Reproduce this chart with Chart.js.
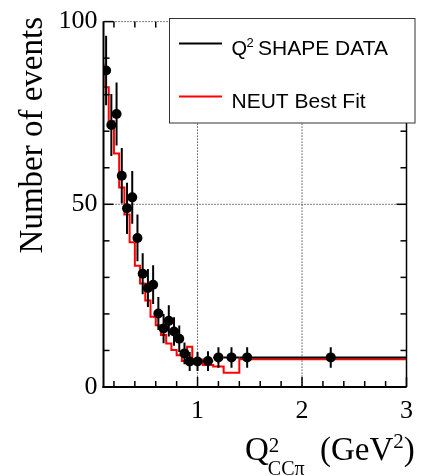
<!DOCTYPE html>
<html>
<head>
<meta charset="utf-8">
<script src="https://cdn.jsdelivr.net/npm/chart.js@4"></script>
<style>
  body { margin: 0; background: #fff; }
  canvas { display: block; }
</style>
</head>
<body>
<canvas id="q2Chart" width="422" height="476"></canvas>
<script>
// bin edges in Q^2 (GeV^2)
const binEdges = [0.10, 0.15, 0.20, 0.25, 0.30, 0.35, 0.40, 0.45, 0.50, 0.55, 0.60, 0.65,
                  0.70, 0.75, 0.80, 0.85, 0.90, 0.95, 1.05, 1.15, 1.25, 1.40, 1.55, 3.00];
// Q2 shape data, one value per bin
const dataCounts = [86.6, 71.7, 74.7, 57.8, 48.9, 51.9, 40.8, 31.0, 27.1, 28.0, 20.1, 16.0,
                    18.1, 15.2, 13.2, 9.2, 7.0, 7.0, 7.1, 8.1, 8.1, 8.1, 8.1];
const dataErrors = [9.5, 8.5, 8.6, 7.6, 7.0, 7.2, 6.4, 5.6, 5.2, 5.3, 4.5, 4.0,
                    4.3, 3.9, 3.6, 3.0, 2.6, 2.6, 2.7, 2.8, 2.8, 2.8, 2.8];
// NEUT best fit histogram
const fitCounts = [88.5, 82.0, 72.7, 63.9, 54.6, 47.2, 39.6, 33.2, 28.3, 23.7, 19.2, 16.9,
                   14.2, 11.9, 10.1, 8.7, 7.1, 11.0, 7.5, 6.0, 5.6, 3.9, 7.6];

const xTickLabels = [1, 2, 3];
const yTickLabels = [0, 50, 100];
const xGrid = [1, 2];
const yGrid = [50, 100];
const legendLabels = ["SHAPE DATA", "NEUT Best Fit"];

const dataPoints = dataCounts.map((v, i) => ({ x: (binEdges[i] + binEdges[i + 1]) / 2, y: v }));
const fitPoints = fitCounts.map((v, i) => ({ x: binEdges[i], y: v }));
fitPoints.push({ x: binEdges[binEdges.length - 1], y: fitCounts[fitCounts.length - 1] });

const serif = "'Liberation Serif', 'DejaVu Serif', serif";
const sans = "'Liberation Sans', Arial, sans-serif";

function line(ctx, x1, y1, x2, y2) {
    ctx.beginPath();
    ctx.moveTo(x1, y1);
    ctx.lineTo(x2, y2);
    ctx.stroke();
}

const rootStyle = {
    id: "rootStyle",
    beforeDatasetsDraw(chart) {
        const { ctx, chartArea: a, scales: { x, y } } = chart;
        ctx.save();
        ctx.strokeStyle = "#000";
        ctx.lineWidth = 1;
        ctx.setLineDash([1, 2]);
        xGrid.forEach(v => { const px = x.getPixelForValue(v); line(ctx, px, a.top, px, a.bottom); });
        yGrid.forEach(v => { const py = y.getPixelForValue(v); line(ctx, a.left, py, a.right, py); });
        ctx.restore();
    },
    afterDatasetsDraw(chart) {
        const { ctx, chartArea: a, scales: { x, y } } = chart;
        ctx.save();

        // error bars
        ctx.beginPath();
        ctx.rect(a.left, a.top, a.right - a.left, a.bottom - a.top);
        ctx.clip();
        ctx.strokeStyle = "#000";
        ctx.lineWidth = 2;
        dataCounts.forEach((v, i) => {
            const cx = x.getPixelForValue(dataPoints[i].x);
            line(ctx, cx, y.getPixelForValue(v - dataErrors[i]), cx, y.getPixelForValue(v + dataErrors[i]));
            const py = y.getPixelForValue(v);
            line(ctx, x.getPixelForValue(binEdges[i]), py, x.getPixelForValue(binEdges[i + 1]), py);
        });
        ctx.restore();

        ctx.save();
        ctx.strokeStyle = "#000";
        // frame
        ctx.lineWidth = 2;
        line(ctx, a.left, a.top, a.left, a.bottom + 1);
        line(ctx, a.left - 1, a.bottom, a.right, a.bottom);
        ctx.lineWidth = 1.5;
        line(ctx, a.right, a.top, a.right, a.bottom);

        // ticks, inside on all four sides
        ctx.lineWidth = 1.5;
        for (let v = 0; v <= 100; v += 10) {
            const py = y.getPixelForValue(v);
            const len = v % 50 === 0 ? 10 : 6;
            line(ctx, a.left, py, a.left + len, py);
            line(ctx, a.right, py, a.right - len, py);
        }
        for (let k = 1; k <= 15; k++) {
            const v = k * 0.2;
            const px = x.getPixelForValue(v);
            const len = k % 5 === 0 ? 10 : 6;
            line(ctx, px, a.bottom, px, a.bottom - len);
            line(ctx, px, a.top, px, a.top + len);
        }

        // legend
        ctx.fillStyle = "#fff";
        ctx.fillRect(169.5, 18.5, 245.5, 104.5);
        ctx.strokeStyle = "#333";
        ctx.lineWidth = 1;
        ctx.strokeRect(169.5, 18.5, 245.5, 104.5);
        ctx.lineWidth = 2;
        ctx.strokeStyle = "#000";
        line(ctx, 179, 43.5, 222, 43.5);
        ctx.strokeStyle = "#ff0000";
        line(ctx, 179, 96.5, 222, 96.5);
        ctx.fillStyle = "#000";
        ctx.textBaseline = "alphabetic";
        ctx.textAlign = "left";
        ctx.font = "20px " + sans;
        ctx.fillText("Q", 231.5, 55);
        ctx.font = "13px " + sans;
        ctx.fillText("2", 246.5, 47);
        ctx.font = "21px " + sans;
        ctx.fillText(legendLabels[0], 258, 55);
        ctx.fillText(legendLabels[1], 231.5, 108);

        // y title
        ctx.save();
        ctx.translate(42, 17);
        ctx.rotate(-Math.PI / 2);
        ctx.textAlign = "right";
        ctx.font = "33px " + serif;
        ctx.fillText("Number of events", 0, 0);
        ctx.restore();

        // x title
        ctx.textAlign = "left";
        ctx.font = "33px " + serif;
        ctx.fillText("Q", 245, 460);
        const w = ctx.measureText("Q").width;
        ctx.font = "21px " + serif;
        ctx.fillText("2", 245 + w, 452);
        ctx.font = "20px " + serif;
        ctx.fillText("CC\u03c0", 245 + w - 1, 475);
        ctx.font = "33px " + serif;
        ctx.fillText("(GeV", 320, 460);
        const gw = ctx.measureText("(GeV").width;
        ctx.font = "21px " + serif;
        ctx.fillText("2", 320 + gw, 448);
        const sw = ctx.measureText("2").width;
        ctx.font = "33px " + serif;
        ctx.fillText(")", 320 + gw + sw, 460);

        ctx.restore();
    }
};

new Chart(document.getElementById("q2Chart"), {
    type: "scatter",
    data: {
        datasets: [
            {
                label: "Q2 SHAPE DATA",
                data: dataPoints,
                pointRadius: 5,
                pointBorderWidth: 0,
                backgroundColor: "#000",
                borderColor: "#000"
            },
            {
                type: "line",
                label: "NEUT Best Fit",
                data: fitPoints,
                stepped: "after",
                borderColor: "#ff0000",
                borderWidth: 2,
                pointRadius: 0,
                fill: false
            }
        ]
    },
    options: {
        responsive: false,
        animation: false,
        events: [],
        layout: { padding: { top: 20, right: 8, left: 0, bottom: 0 } },
        plugins: { legend: { display: false }, tooltip: { enabled: false } },
        scales: {
            x: {
                type: "linear",
                min: 0.1,
                max: 3,
                grid: { display: false, drawTicks: false },
                border: { display: false },
                afterBuildTicks: s => { s.ticks = xTickLabels.map(v => ({ value: v })); },
                afterFit: s => { s.height = 89; },
                ticks: { color: "#000", font: { family: serif, size: 26 }, padding: 9, maxRotation: 0 }
            },
            y: {
                type: "linear",
                min: 0,
                max: 100,
                grid: { display: false, drawTicks: false },
                border: { display: false },
                afterBuildTicks: s => { s.ticks = yTickLabels.map(v => ({ value: v })); },
                afterFit: s => { s.width = 103.5; },
                ticks: { color: "#000", font: { family: serif, size: 26 }, padding: 6 }
            }
        }
    },
    plugins: [rootStyle]
});
</script>
</body>
</html>
